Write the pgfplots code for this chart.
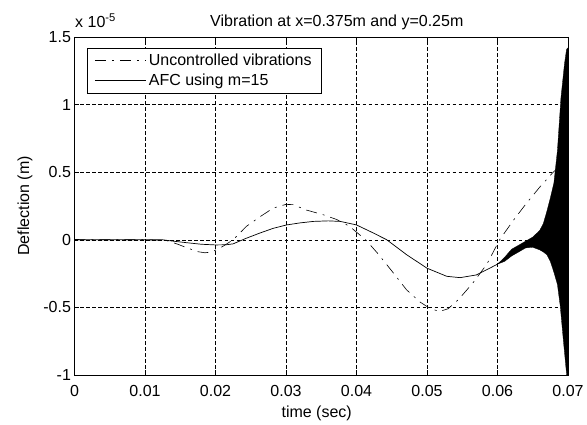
\documentclass[border=0pt]{standalone}
\usepackage{fontspec}
\setmainfont{Liberation Sans}
\usepackage{pgfplots}
\pgfplotsset{compat=1.18}
\begin{document}
\begin{tikzpicture}[font=\fontsize{16}{19}\selectfont]
\useasboundingbox (-74.5pt,-50pt) rectangle (512.5pt,375pt);
\begin{axis}[
  at={(0pt,0pt)}, anchor=south west,
  scale only axis, width=493.5pt, height=338pt,
  xmin=0, xmax=0.07, ymin=-1, ymax=1.5,
  scaled x ticks=false, scaled y ticks=false,
  xtick={0,0.01,0.02,0.03,0.04,0.05,0.06,0.07},
  xticklabels={0,0.01,0.02,0.03,0.04,0.05,0.06,0.07},
  ytick={-1,-0.5,0,0.5,1,1.5},
  yticklabels={-1,-0.5,0,0.5,1,1.5},
  /pgf/number format/assume math mode=true,
  tick align=inside, major tick length=5pt,
  xtick pos=both, ytick pos=both,
  tick style={black, line width=0.6pt},
  axis line style={black, line width=0.6pt},
  grid=major,
  major grid style={black, line width=0.5pt, dash pattern=on 3.5pt off 2.5pt},
  xticklabel style={yshift=-7pt},
  legend cell align=left,
  legend style={at={(0.026,0.968)}, anchor=north west, draw=black, line width=0.6pt,
    inner xsep=7pt, inner ysep=3.5pt, row sep=2pt,
    nodes={inner sep=2.5pt}},
  legend image code/.code={\draw[#1] (0pt,0pt) -- (51pt,0pt);},
]
\addplot[black, line width=0.6pt, dash pattern=on 11pt off 6pt on 2pt off 6pt] coordinates {
(0,0) (0.0100,0) (0.0130,-0.005) (0.0145,-0.03) (0.0160,-0.06) (0.0175,-0.088)
(0.0185,-0.096) (0.0195,-0.09) (0.0210,-0.05) (0.0225,0) (0.0244,0.10) (0.0263,0.17)
(0.0282,0.235) (0.0300,0.262) (0.0310,0.26) (0.0329,0.22) (0.0353,0.185) (0.0372,0.15)
(0.0390,0.10) (0.0413,0) (0.0430,-0.10) (0.0450,-0.23) (0.0471,-0.37) (0.0490,-0.46)
(0.0505,-0.51) (0.0518,-0.53) (0.0530,-0.51) (0.0545,-0.44) (0.0565,-0.32) (0.0585,-0.18)
(0.0603,0) (0.0622,0.14) (0.0641,0.27) (0.0660,0.39) (0.0679,0.50) (0.0700,0.60)
};
\addlegendentry{Uncontrolled vibrations}
\addplot[black, line width=0.7pt] coordinates {
(0,0) (0.0100,0) (0.0125,0) (0.0140,-0.01) (0.0160,-0.022) (0.0180,-0.033) (0.0200,-0.038)
(0.0215,-0.037) (0.0225,-0.03) (0.0243,0.01) (0.0263,0.05) (0.0282,0.085) (0.0301,0.11)
(0.0320,0.125) (0.0339,0.136) (0.0360,0.14) (0.0377,0.136) (0.0400,0.11) (0.0424,0.05)
(0.0443,0) (0.0471,-0.11) (0.0500,-0.21) (0.0528,-0.27) (0.0547,-0.28) (0.0570,-0.26)
(0.0589,-0.21) (0.0600,-0.18)
};
\addlegendentry{AFC using m=15}
\addplot[black, fill=black, line width=0.3pt, forget plot] coordinates {
(0.0600,-0.18) (0.0610,-0.13) (0.0620,-0.07) (0.0630,-0.04) (0.0640,-0.01) (0.0650,0.02)
(0.0660,0.07) (0.0665,0.12) (0.0670,0.21) (0.0675,0.31) (0.0680,0.42) (0.0685,0.66)
(0.0690,1.05) (0.0695,1.30) (0.0698,1.41) (0.0700,1.42)
(0.0700,-1.10) (0.0697,-0.94) (0.0693,-0.72) (0.0689,-0.49) (0.0685,-0.33) (0.0680,-0.24)
(0.0675,-0.16) (0.0670,-0.11) (0.0665,-0.09) (0.0660,-0.075) (0.0650,-0.055) (0.0640,-0.06)
(0.0630,-0.09) (0.0620,-0.12) (0.0610,-0.16) (0.0600,-0.18)
} -- cycle;
\end{axis}
\node[anchor=base west, inner sep=0pt] at (135.5pt,348pt) {Vibration at x=0.375m and y=0.25m};
\node[anchor=base west, inner sep=0pt] at (0.5pt,347pt) {x 10\textsuperscript{-5}};
\node[anchor=base, inner sep=0pt] at (242.2pt,-43pt) {time (sec)};
\node[rotate=90, inner sep=0pt] at (-49.5pt,169pt) {Deflection (m)};
\end{tikzpicture}
\end{document}
